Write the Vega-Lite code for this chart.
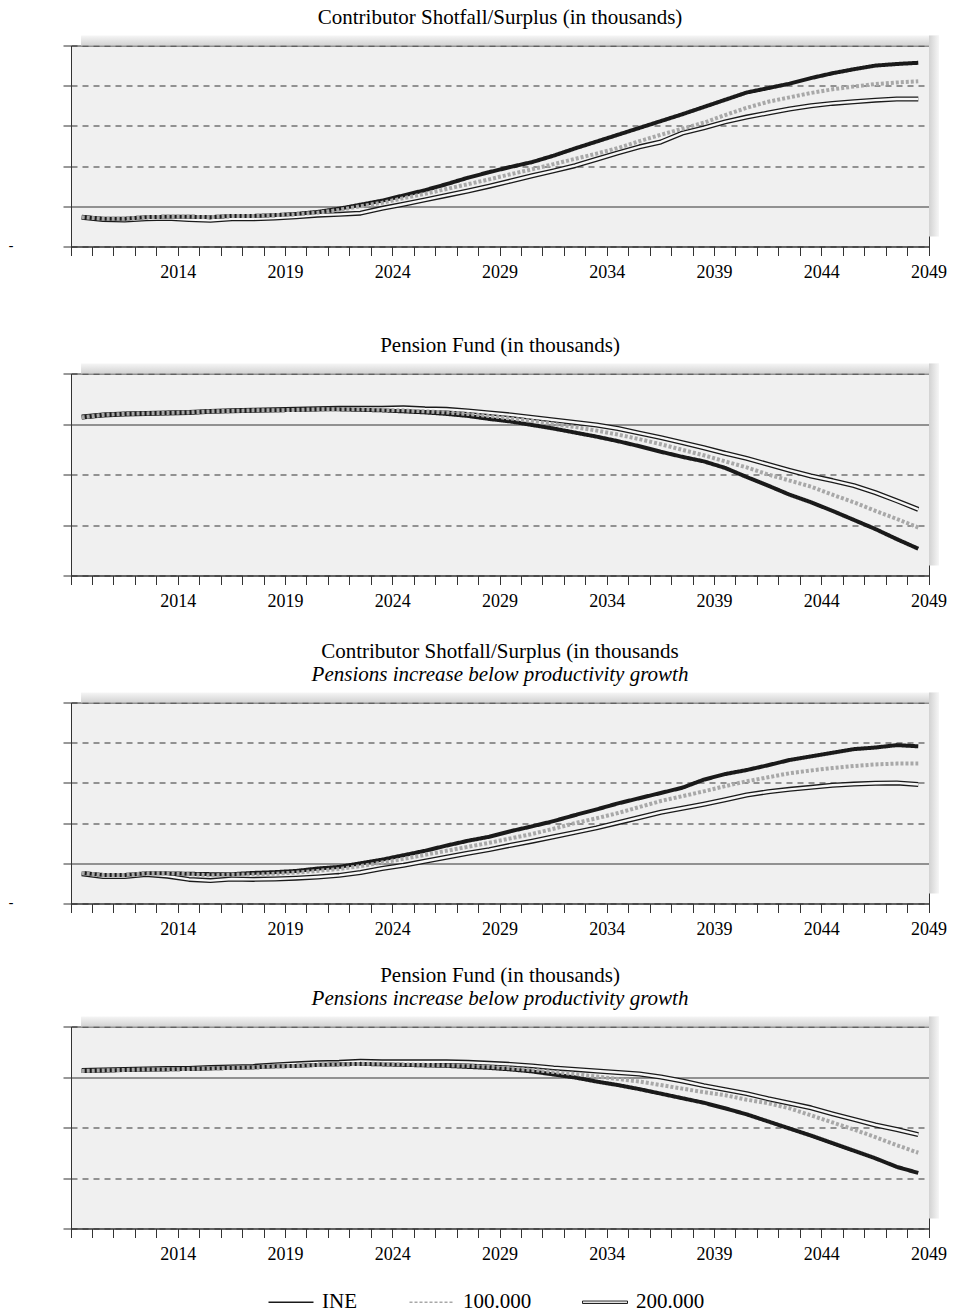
{
 "$schema": "https://vega.github.io/schema/vega-lite/v6.json",
 "padding": {"left": 7, "top": 6.5, "right": 5, "bottom": 5},
 "background": "white",
 "config": {
  "view": {"fill": "#f0f0f0", "stroke": "#333333", "strokeWidth": 1},
  "axis": {"domainColor": "#333333", "tickColor": "#333333", "labelFont": "Liberation Serif", "labelFontSize": 18, "labelColor": "#000000"},
  "title": {"font": "Liberation Serif", "fontSize": 21, "fontWeight": "normal", "color": "#000000", "subtitleFont": "Liberation Serif", "subtitleFontSize": 21, "subtitleFontStyle": "italic", "subtitleColor": "#000000", "subtitlePadding": 2, "offset": 7, "anchor": "middle"}
 },
 "datasets": {
  "d": [
   {"p":1,"year":2010,"INE":-0.27,"c100":-0.27,"c200":-0.27},
   {"p":1,"year":2011,"INE":-0.31,"c100":-0.31,"c200":-0.33},
   {"p":1,"year":2012,"INE":-0.31,"c100":-0.31,"c200":-0.34},
   {"p":1,"year":2013,"INE":-0.27,"c100":-0.27,"c200":-0.31},
   {"p":1,"year":2014,"INE":-0.26,"c100":-0.26,"c200":-0.30},
   {"p":1,"year":2015,"INE":-0.26,"c100":-0.26,"c200":-0.33},
   {"p":1,"year":2016,"INE":-0.27,"c100":-0.27,"c200":-0.35},
   {"p":1,"year":2017,"INE":-0.24,"c100":-0.24,"c200":-0.31},
   {"p":1,"year":2018,"INE":-0.24,"c100":-0.24,"c200":-0.31},
   {"p":1,"year":2019,"INE":-0.22,"c100":-0.22,"c200":-0.29},
   {"p":1,"year":2020,"INE":-0.19,"c100":-0.20,"c200":-0.26},
   {"p":1,"year":2021,"INE":-0.14,"c100":-0.16,"c200":-0.22},
   {"p":1,"year":2022,"INE":-0.06,"c100":-0.09,"c200":-0.20},
   {"p":1,"year":2023,"INE":0.04,"c100":0.00,"c200":-0.17},
   {"p":1,"year":2024,"INE":0.14,"c100":0.09,"c200":-0.05},
   {"p":1,"year":2025,"INE":0.27,"c100":0.20,"c200":0.05},
   {"p":1,"year":2026,"INE":0.40,"c100":0.31,"c200":0.16},
   {"p":1,"year":2027,"INE":0.55,"c100":0.43,"c200":0.27},
   {"p":1,"year":2028,"INE":0.71,"c100":0.55,"c200":0.38},
   {"p":1,"year":2029,"INE":0.85,"c100":0.67,"c200":0.50},
   {"p":1,"year":2030,"INE":0.98,"c100":0.80,"c200":0.63},
   {"p":1,"year":2031,"INE":1.10,"c100":0.92,"c200":0.76},
   {"p":1,"year":2032,"INE":1.26,"c100":1.05,"c200":0.88},
   {"p":1,"year":2033,"INE":1.44,"c100":1.18,"c200":1.01},
   {"p":1,"year":2034,"INE":1.61,"c100":1.31,"c200":1.17},
   {"p":1,"year":2035,"INE":1.78,"c100":1.45,"c200":1.33},
   {"p":1,"year":2036,"INE":1.95,"c100":1.62,"c200":1.48},
   {"p":1,"year":2037,"INE":2.12,"c100":1.78,"c200":1.60},
   {"p":1,"year":2038,"INE":2.29,"c100":1.93,"c200":1.82},
   {"p":1,"year":2039,"INE":2.47,"c100":2.08,"c200":1.95},
   {"p":1,"year":2040,"INE":2.65,"c100":2.27,"c200":2.10},
   {"p":1,"year":2041,"INE":2.83,"c100":2.45,"c200":2.22},
   {"p":1,"year":2042,"INE":2.94,"c100":2.60,"c200":2.32},
   {"p":1,"year":2043,"INE":3.05,"c100":2.71,"c200":2.42},
   {"p":1,"year":2044,"INE":3.19,"c100":2.82,"c200":2.50},
   {"p":1,"year":2045,"INE":3.31,"c100":2.91,"c200":2.56},
   {"p":1,"year":2046,"INE":3.41,"c100":2.98,"c200":2.60},
   {"p":1,"year":2047,"INE":3.50,"c100":3.04,"c200":2.64},
   {"p":1,"year":2048,"INE":3.54,"c100":3.08,"c200":2.67},
   {"p":1,"year":2049,"INE":3.57,"c100":3.11,"c200":2.67},

   {"p":2,"year":2010,"INE":0.13,"c100":0.13,"c200":0.14},
   {"p":2,"year":2011,"INE":0.18,"c100":0.18,"c200":0.18},
   {"p":2,"year":2012,"INE":0.20,"c100":0.20,"c200":0.20},
   {"p":2,"year":2013,"INE":0.21,"c100":0.21,"c200":0.21},
   {"p":2,"year":2014,"INE":0.22,"c100":0.22,"c200":0.22},
   {"p":2,"year":2015,"INE":0.23,"c100":0.23,"c200":0.23},
   {"p":2,"year":2016,"INE":0.25,"c100":0.25,"c200":0.25},
   {"p":2,"year":2017,"INE":0.26,"c100":0.26,"c200":0.26},
   {"p":2,"year":2018,"INE":0.27,"c100":0.27,"c200":0.27},
   {"p":2,"year":2019,"INE":0.27,"c100":0.27,"c200":0.28},
   {"p":2,"year":2020,"INE":0.28,"c100":0.28,"c200":0.29},
   {"p":2,"year":2021,"INE":0.29,"c100":0.29,"c200":0.30},
   {"p":2,"year":2022,"INE":0.29,"c100":0.29,"c200":0.31},
   {"p":2,"year":2023,"INE":0.28,"c100":0.29,"c200":0.31},
   {"p":2,"year":2024,"INE":0.27,"c100":0.28,"c200":0.31},
   {"p":2,"year":2025,"INE":0.25,"c100":0.27,"c200":0.32},
   {"p":2,"year":2026,"INE":0.23,"c100":0.25,"c200":0.30},
   {"p":2,"year":2027,"INE":0.20,"c100":0.23,"c200":0.29},
   {"p":2,"year":2028,"INE":0.16,"c100":0.20,"c200":0.26},
   {"p":2,"year":2029,"INE":0.10,"c100":0.16,"c200":0.22},
   {"p":2,"year":2030,"INE":0.05,"c100":0.11,"c200":0.18},
   {"p":2,"year":2031,"INE":-0.02,"c100":0.06,"c200":0.13},
   {"p":2,"year":2032,"INE":-0.09,"c100":0.00,"c200":0.08},
   {"p":2,"year":2033,"INE":-0.17,"c100":-0.06,"c200":0.03},
   {"p":2,"year":2034,"INE":-0.25,"c100":-0.13,"c200":-0.02},
   {"p":2,"year":2035,"INE":-0.34,"c100":-0.21,"c200":-0.09},
   {"p":2,"year":2036,"INE":-0.44,"c100":-0.30,"c200":-0.18},
   {"p":2,"year":2037,"INE":-0.55,"c100":-0.40,"c200":-0.27},
   {"p":2,"year":2038,"INE":-0.65,"c100":-0.51,"c200":-0.37},
   {"p":2,"year":2039,"INE":-0.74,"c100":-0.62,"c200":-0.47},
   {"p":2,"year":2040,"INE":-0.87,"c100":-0.74,"c200":-0.58},
   {"p":2,"year":2041,"INE":-1.05,"c100":-0.86,"c200":-0.68},
   {"p":2,"year":2042,"INE":-1.22,"c100":-1.00,"c200":-0.80},
   {"p":2,"year":2043,"INE":-1.40,"c100":-1.12,"c200":-0.92},
   {"p":2,"year":2044,"INE":-1.55,"c100":-1.24,"c200":-1.03},
   {"p":2,"year":2045,"INE":-1.72,"c100":-1.40,"c200":-1.12},
   {"p":2,"year":2046,"INE":-1.90,"c100":-1.55,"c200":-1.22},
   {"p":2,"year":2047,"INE":-2.08,"c100":-1.72,"c200":-1.36},
   {"p":2,"year":2048,"INE":-2.28,"c100":-1.88,"c200":-1.52},
   {"p":2,"year":2049,"INE":-2.47,"c100":-2.05,"c200":-1.69},

   {"p":3,"year":2010,"INE":-0.24,"c100":-0.24,"c200":-0.26},
   {"p":3,"year":2011,"INE":-0.29,"c100":-0.29,"c200":-0.33},
   {"p":3,"year":2012,"INE":-0.29,"c100":-0.29,"c200":-0.33},
   {"p":3,"year":2013,"INE":-0.25,"c100":-0.25,"c200":-0.28},
   {"p":3,"year":2014,"INE":-0.25,"c100":-0.25,"c200":-0.32},
   {"p":3,"year":2015,"INE":-0.26,"c100":-0.27,"c200":-0.40},
   {"p":3,"year":2016,"INE":-0.27,"c100":-0.30,"c200":-0.43},
   {"p":3,"year":2017,"INE":-0.27,"c100":-0.28,"c200":-0.39},
   {"p":3,"year":2018,"INE":-0.24,"c100":-0.28,"c200":-0.40},
   {"p":3,"year":2019,"INE":-0.22,"c100":-0.26,"c200":-0.39},
   {"p":3,"year":2020,"INE":-0.19,"c100":-0.23,"c200":-0.37},
   {"p":3,"year":2021,"INE":-0.13,"c100":-0.19,"c200":-0.34},
   {"p":3,"year":2022,"INE":-0.09,"c100":-0.14,"c200":-0.30},
   {"p":3,"year":2023,"INE":0.00,"c100":-0.07,"c200":-0.23},
   {"p":3,"year":2024,"INE":0.09,"c100":0.02,"c200":-0.13},
   {"p":3,"year":2025,"INE":0.20,"c100":0.11,"c200":-0.05},
   {"p":3,"year":2026,"INE":0.31,"c100":0.21,"c200":0.05},
   {"p":3,"year":2027,"INE":0.44,"c100":0.31,"c200":0.15},
   {"p":3,"year":2028,"INE":0.56,"c100":0.41,"c200":0.25},
   {"p":3,"year":2029,"INE":0.66,"c100":0.51,"c200":0.34},
   {"p":3,"year":2030,"INE":0.80,"c100":0.62,"c200":0.45},
   {"p":3,"year":2031,"INE":0.92,"c100":0.73,"c200":0.55},
   {"p":3,"year":2032,"INE":1.05,"c100":0.86,"c200":0.66},
   {"p":3,"year":2033,"INE":1.20,"c100":1.00,"c200":0.77},
   {"p":3,"year":2034,"INE":1.34,"c100":1.12,"c200":0.88},
   {"p":3,"year":2035,"INE":1.49,"c100":1.25,"c200":1.01},
   {"p":3,"year":2036,"INE":1.62,"c100":1.40,"c200":1.14},
   {"p":3,"year":2037,"INE":1.75,"c100":1.55,"c200":1.27},
   {"p":3,"year":2038,"INE":1.88,"c100":1.67,"c200":1.37},
   {"p":3,"year":2039,"INE":2.08,"c100":1.79,"c200":1.47},
   {"p":3,"year":2040,"INE":2.22,"c100":1.92,"c200":1.58},
   {"p":3,"year":2041,"INE":2.32,"c100":2.04,"c200":1.70},
   {"p":3,"year":2042,"INE":2.44,"c100":2.14,"c200":1.78},
   {"p":3,"year":2043,"INE":2.57,"c100":2.24,"c200":1.84},
   {"p":3,"year":2044,"INE":2.66,"c100":2.31,"c200":1.89},
   {"p":3,"year":2045,"INE":2.75,"c100":2.37,"c200":1.94},
   {"p":3,"year":2046,"INE":2.84,"c100":2.42,"c200":1.97},
   {"p":3,"year":2047,"INE":2.88,"c100":2.46,"c200":1.99},
   {"p":3,"year":2048,"INE":2.94,"c100":2.48,"c200":2.00},
   {"p":3,"year":2049,"INE":2.91,"c100":2.48,"c200":1.96},

   {"p":4,"year":2010,"INE":0.12,"c100":0.12,"c200":0.13},
   {"p":4,"year":2011,"INE":0.13,"c100":0.13,"c200":0.14},
   {"p":4,"year":2012,"INE":0.14,"c100":0.14,"c200":0.15},
   {"p":4,"year":2013,"INE":0.15,"c100":0.15,"c200":0.16},
   {"p":4,"year":2014,"INE":0.15,"c100":0.15,"c200":0.17},
   {"p":4,"year":2015,"INE":0.16,"c100":0.16,"c200":0.17},
   {"p":4,"year":2016,"INE":0.17,"c100":0.17,"c200":0.19},
   {"p":4,"year":2017,"INE":0.18,"c100":0.18,"c200":0.20},
   {"p":4,"year":2018,"INE":0.19,"c100":0.19,"c200":0.21},
   {"p":4,"year":2019,"INE":0.21,"c100":0.21,"c200":0.24},
   {"p":4,"year":2020,"INE":0.22,"c100":0.22,"c200":0.26},
   {"p":4,"year":2021,"INE":0.24,"c100":0.24,"c200":0.28},
   {"p":4,"year":2022,"INE":0.25,"c100":0.25,"c200":0.29},
   {"p":4,"year":2023,"INE":0.26,"c100":0.26,"c200":0.31},
   {"p":4,"year":2024,"INE":0.25,"c100":0.26,"c200":0.30},
   {"p":4,"year":2025,"INE":0.24,"c100":0.25,"c200":0.30},
   {"p":4,"year":2026,"INE":0.23,"c100":0.24,"c200":0.30},
   {"p":4,"year":2027,"INE":0.22,"c100":0.23,"c200":0.30},
   {"p":4,"year":2028,"INE":0.20,"c100":0.22,"c200":0.29},
   {"p":4,"year":2029,"INE":0.18,"c100":0.20,"c200":0.27},
   {"p":4,"year":2030,"INE":0.15,"c100":0.17,"c200":0.25},
   {"p":4,"year":2031,"INE":0.11,"c100":0.14,"c200":0.22},
   {"p":4,"year":2032,"INE":0.05,"c100":0.10,"c200":0.18},
   {"p":4,"year":2033,"INE":-0.01,"c100":0.06,"c200":0.15},
   {"p":4,"year":2034,"INE":-0.09,"c100":0.01,"c200":0.12},
   {"p":4,"year":2035,"INE":-0.16,"c100":-0.04,"c200":0.09},
   {"p":4,"year":2036,"INE":-0.24,"c100":-0.09,"c200":0.06},
   {"p":4,"year":2037,"INE":-0.33,"c100":-0.16,"c200":0.00},
   {"p":4,"year":2038,"INE":-0.42,"c100":-0.23,"c200":-0.08},
   {"p":4,"year":2039,"INE":-0.51,"c100":-0.30,"c200":-0.17},
   {"p":4,"year":2040,"INE":-0.62,"c100":-0.36,"c200":-0.25},
   {"p":4,"year":2041,"INE":-0.74,"c100":-0.45,"c200":-0.33},
   {"p":4,"year":2042,"INE":-0.88,"c100":-0.52,"c200":-0.43},
   {"p":4,"year":2043,"INE":-1.02,"c100":-0.62,"c200":-0.52},
   {"p":4,"year":2044,"INE":-1.16,"c100":-0.76,"c200":-0.61},
   {"p":4,"year":2045,"INE":-1.31,"c100":-0.90,"c200":-0.73},
   {"p":4,"year":2046,"INE":-1.46,"c100":-1.04,"c200":-0.84},
   {"p":4,"year":2047,"INE":-1.61,"c100":-1.19,"c200":-0.95},
   {"p":4,"year":2048,"INE":-1.78,"c100":-1.35,"c200":-1.04},
   {"p":4,"year":2049,"INE":-1.90,"c100":-1.50,"c200":-1.14}
  ]
 },
 "resolve": {"scale": {"color": "shared", "strokeDash": "shared"}},
 "spacing": 29,
 "vconcat": [
  {
   "spacing": 52,
   "resolve": {"scale": {"color": "shared", "strokeDash": "shared"}},
   "vconcat": [
    {
     "title": {"text": "Contributor Shotfall/Surplus (in thousands)"},
     "width": 858, "height": 201,
     "resolve": {"scale": {"x": "independent"}, "axis": {"x": "independent"}},
     "layer": [
      {
       "data": {"values": [{}]},
       "layer": [
        {"mark": {"type": "rect", "clip": false, "fill": {"gradient": "linear", "x1": 0, "y1": 0, "x2": 0, "y2": 1, "stops": [{"offset": 0, "color": "#f6f6f6"}, {"offset": 1, "color": "#d2d2d2"}]}},
         "encoding": {"x": {"datum": 0.0117, "type": "quantitative", "scale": {"domain": [0, 1]}, "axis": null}, "x2": {"datum": 1.0117}, "y": {"datum": 4, "type": "quantitative", "scale": {"domain": [-1, 4], "nice": false, "zero": false}}, "y2": {"datum": 4.25}}},
        {"mark": {"type": "rect", "clip": false, "fill": {"gradient": "linear", "x1": 0, "y1": 0, "x2": 1, "y2": 0, "stops": [{"offset": 0, "color": "#d2d2d2"}, {"offset": 1, "color": "#f6f6f6"}]}},
         "encoding": {"x": {"datum": 1, "type": "quantitative", "scale": {"domain": [0, 1]}, "axis": null}, "x2": {"datum": 1.0117}, "y": {"datum": -0.75, "type": "quantitative"}, "y2": {"datum": 4.25}}}
       ]
      },
      {
       "data": {"name": "d"},
       "transform": [{"filter": "datum.p == 1"}],
       "encoding": {
        "x": {"field": "year", "type": "ordinal", "bandPosition": 0.5, "scale": {"type": "band", "paddingInner": 0, "paddingOuter": 0}, "axis": {"title": null, "bandPosition": 1, "tickExtra": true, "labelOffset": 10.73, "labelExpr": "(datum.value - 2014) % 5 == 0 ? datum.label : ''", "labelAngle": 0, "labelOverlap": false, "tickSize": 9, "labelPadding": 8, "grid": false}}
       },
       "layer": [
        {"mark": {"type": "line", "stroke": "#1a1a1a", "strokeWidth": 5, "strokeJoin": "round"},
         "encoding": {"y": {"field": "c200", "type": "quantitative", "scale": {"domain": [-1, 4], "nice": false, "zero": false}, "axis": {"title": null, "values": [-1, 0, 1, 2, 3, 4], "grid": true, "gridColor": "#333333", "gridDash": {"condition": {"test": "datum.value === 0", "value": []}, "value": [6, 5]}, "tickSize": 8, "labelExpr": "datum.value == -1 ? '-' : ''", "labelFont": "DejaVu Sans", "labelFontSize": 14, "labelPadding": 50}}}},
        {"mark": {"type": "line", "stroke": "#f7f7f7", "strokeWidth": 2.4, "strokeJoin": "round"},
         "encoding": {"y": {"field": "c200", "type": "quantitative"}}},
        {"transform": [{"fold": ["INE", "c100"], "as": ["series", "value"]}],
         "mark": {"type": "line", "strokeWidth": 4, "strokeJoin": "round"},
         "encoding": {
          "y": {"field": "value", "type": "quantitative"},
          "color": {"field": "series", "type": "nominal", "scale": {"domain": ["INE", "c100", "c200"], "range": ["#1a1a1a", "#a8a8a8", "#1a1a1a"]},
           "legend": {"title": null, "orient": "none", "legendX": 209.5, "legendY": 1246, "direction": "horizontal", "symbolType": "stroke", "symbolSize": 2025, "symbolStrokeWidth": 1.5, "labelFont": "Liberation Serif", "labelFontSize": 21, "labelColor": "#000000", "labelOffset": 20.5, "columnPadding": 49,
            "labelExpr": "datum.value == 'c100' ? '100.000' : datum.value == 'c200' ? '200.000' : datum.label",
            "encode": {"symbols": {"update": {"shape": {"signal": "datum.value == 'c200' ? 'M-1,-0.055H1V0.055H-1Z' : 'stroke'"}, "fill": {"signal": "datum.value == 'c200' ? '#e4e4e4' : 'transparent'"}, "strokeWidth": {"signal": "datum.value == 'c200' ? 1 : 1.5"}}}}}},
          "strokeDash": {"field": "series", "type": "nominal", "scale": {"domain": ["INE", "c100", "c200"], "range": [[1, 0], [3, 2], [1, 0]]}}
         }}
       ]
      }
     ]
    },
    {
     "title": {"text": "Pension Fund (in thousands)"},
     "width": 858, "height": 202,
     "resolve": {"scale": {"x": "independent"}, "axis": {"x": "independent"}},
     "layer": [
      {
       "data": {"values": [{}]},
       "layer": [
        {"mark": {"type": "rect", "clip": false, "fill": {"gradient": "linear", "x1": 0, "y1": 0, "x2": 0, "y2": 1, "stops": [{"offset": 0, "color": "#f6f6f6"}, {"offset": 1, "color": "#d2d2d2"}]}},
         "encoding": {"x": {"datum": 0.0117, "type": "quantitative", "scale": {"domain": [0, 1]}, "axis": null}, "x2": {"datum": 1.0117}, "y": {"datum": 1, "type": "quantitative", "scale": {"domain": [-3, 1], "nice": false, "zero": false}}, "y2": {"datum": 1.2}}},
        {"mark": {"type": "rect", "clip": false, "fill": {"gradient": "linear", "x1": 0, "y1": 0, "x2": 1, "y2": 0, "stops": [{"offset": 0, "color": "#d2d2d2"}, {"offset": 1, "color": "#f6f6f6"}]}},
         "encoding": {"x": {"datum": 1, "type": "quantitative", "scale": {"domain": [0, 1]}, "axis": null}, "x2": {"datum": 1.0117}, "y": {"datum": -2.8, "type": "quantitative"}, "y2": {"datum": 1.2}}}
       ]
      },
      {
       "data": {"name": "d"},
       "transform": [{"filter": "datum.p == 2"}],
       "encoding": {
        "x": {"field": "year", "type": "ordinal", "bandPosition": 0.5, "scale": {"type": "band", "paddingInner": 0, "paddingOuter": 0}, "axis": {"title": null, "bandPosition": 1, "tickExtra": true, "labelOffset": 10.73, "labelExpr": "(datum.value - 2014) % 5 == 0 ? datum.label : ''", "labelAngle": 0, "labelOverlap": false, "tickSize": 9, "labelPadding": 8, "grid": false}}
       },
       "layer": [
        {"mark": {"type": "line", "stroke": "#1a1a1a", "strokeWidth": 5, "strokeJoin": "round"},
         "encoding": {"y": {"field": "c200", "type": "quantitative", "scale": {"domain": [-3, 1], "nice": false, "zero": false}, "axis": {"title": null, "values": [-3, -2, -1, 0, 1], "grid": true, "gridColor": "#333333", "gridDash": {"condition": {"test": "datum.value === 0", "value": []}, "value": [6, 5]}, "tickSize": 8, "labelExpr": "''", "labelFont": "DejaVu Sans", "labelFontSize": 14, "labelPadding": 50}}}},
        {"mark": {"type": "line", "stroke": "#f7f7f7", "strokeWidth": 2.4, "strokeJoin": "round"},
         "encoding": {"y": {"field": "c200", "type": "quantitative"}}},
        {"transform": [{"fold": ["INE", "c100"], "as": ["series", "value"]}],
         "mark": {"type": "line", "strokeWidth": 4, "strokeJoin": "round"},
         "encoding": {
          "y": {"field": "value", "type": "quantitative"},
          "color": {"field": "series", "type": "nominal", "scale": {"domain": ["INE", "c100", "c200"], "range": ["#1a1a1a", "#a8a8a8", "#1a1a1a"]}},
          "strokeDash": {"field": "series", "type": "nominal", "scale": {"domain": ["INE", "c100", "c200"], "range": [[1, 0], [3, 2], [1, 0]]}}
         }}
       ]
      }
     ]
    }
   ]
  },
  {
   "spacing": 25,
   "resolve": {"scale": {"color": "shared", "strokeDash": "shared"}},
   "vconcat": [
    {
     "title": {"text": "Contributor Shotfall/Surplus (in thousands", "subtitle": "Pensions increase below productivity growth"},
     "width": 858, "height": 201,
     "resolve": {"scale": {"x": "independent"}, "axis": {"x": "independent"}},
     "layer": [
      {
       "data": {"values": [{}]},
       "layer": [
        {"mark": {"type": "rect", "clip": false, "fill": {"gradient": "linear", "x1": 0, "y1": 0, "x2": 0, "y2": 1, "stops": [{"offset": 0, "color": "#f6f6f6"}, {"offset": 1, "color": "#d2d2d2"}]}},
         "encoding": {"x": {"datum": 0.0117, "type": "quantitative", "scale": {"domain": [0, 1]}, "axis": null}, "x2": {"datum": 1.0117}, "y": {"datum": 4, "type": "quantitative", "scale": {"domain": [-1, 4], "nice": false, "zero": false}}, "y2": {"datum": 4.25}}},
        {"mark": {"type": "rect", "clip": false, "fill": {"gradient": "linear", "x1": 0, "y1": 0, "x2": 1, "y2": 0, "stops": [{"offset": 0, "color": "#d2d2d2"}, {"offset": 1, "color": "#f6f6f6"}]}},
         "encoding": {"x": {"datum": 1, "type": "quantitative", "scale": {"domain": [0, 1]}, "axis": null}, "x2": {"datum": 1.0117}, "y": {"datum": -0.75, "type": "quantitative"}, "y2": {"datum": 4.25}}}
       ]
      },
      {
       "data": {"name": "d"},
       "transform": [{"filter": "datum.p == 3"}],
       "encoding": {
        "x": {"field": "year", "type": "ordinal", "bandPosition": 0.5, "scale": {"type": "band", "paddingInner": 0, "paddingOuter": 0}, "axis": {"title": null, "bandPosition": 1, "tickExtra": true, "labelOffset": 10.73, "labelExpr": "(datum.value - 2014) % 5 == 0 ? datum.label : ''", "labelAngle": 0, "labelOverlap": false, "tickSize": 9, "labelPadding": 8, "grid": false}}
       },
       "layer": [
        {"mark": {"type": "line", "stroke": "#1a1a1a", "strokeWidth": 5, "strokeJoin": "round"},
         "encoding": {"y": {"field": "c200", "type": "quantitative", "scale": {"domain": [-1, 4], "nice": false, "zero": false}, "axis": {"title": null, "values": [-1, 0, 1, 2, 3, 4], "grid": true, "gridColor": "#333333", "gridDash": {"condition": {"test": "datum.value === 0", "value": []}, "value": [6, 5]}, "tickSize": 8, "labelExpr": "datum.value == -1 ? '-' : ''", "labelFont": "DejaVu Sans", "labelFontSize": 14, "labelPadding": 50}}}},
        {"mark": {"type": "line", "stroke": "#f7f7f7", "strokeWidth": 2.4, "strokeJoin": "round"},
         "encoding": {"y": {"field": "c200", "type": "quantitative"}}},
        {"transform": [{"fold": ["INE", "c100"], "as": ["series", "value"]}],
         "mark": {"type": "line", "strokeWidth": 4, "strokeJoin": "round"},
         "encoding": {
          "y": {"field": "value", "type": "quantitative"},
          "color": {"field": "series", "type": "nominal", "scale": {"domain": ["INE", "c100", "c200"], "range": ["#1a1a1a", "#a8a8a8", "#1a1a1a"]}},
          "strokeDash": {"field": "series", "type": "nominal", "scale": {"domain": ["INE", "c100", "c200"], "range": [[1, 0], [3, 2], [1, 0]]}}
         }}
       ]
      }
     ]
    },
    {
     "title": {"text": "Pension Fund (in thousands)", "subtitle": "Pensions increase below productivity growth"},
     "width": 858, "height": 202,
     "resolve": {"scale": {"x": "independent"}, "axis": {"x": "independent"}},
     "layer": [
      {
       "data": {"values": [{}]},
       "layer": [
        {"mark": {"type": "rect", "clip": false, "fill": {"gradient": "linear", "x1": 0, "y1": 0, "x2": 0, "y2": 1, "stops": [{"offset": 0, "color": "#f6f6f6"}, {"offset": 1, "color": "#d2d2d2"}]}},
         "encoding": {"x": {"datum": 0.0117, "type": "quantitative", "scale": {"domain": [0, 1]}, "axis": null}, "x2": {"datum": 1.0117}, "y": {"datum": 1, "type": "quantitative", "scale": {"domain": [-3, 1], "nice": false, "zero": false}}, "y2": {"datum": 1.2}}},
        {"mark": {"type": "rect", "clip": false, "fill": {"gradient": "linear", "x1": 0, "y1": 0, "x2": 1, "y2": 0, "stops": [{"offset": 0, "color": "#d2d2d2"}, {"offset": 1, "color": "#f6f6f6"}]}},
         "encoding": {"x": {"datum": 1, "type": "quantitative", "scale": {"domain": [0, 1]}, "axis": null}, "x2": {"datum": 1.0117}, "y": {"datum": -2.8, "type": "quantitative"}, "y2": {"datum": 1.2}}}
       ]
      },
      {
       "data": {"name": "d"},
       "transform": [{"filter": "datum.p == 4"}],
       "encoding": {
        "x": {"field": "year", "type": "ordinal", "bandPosition": 0.5, "scale": {"type": "band", "paddingInner": 0, "paddingOuter": 0}, "axis": {"title": null, "bandPosition": 1, "tickExtra": true, "labelOffset": 10.73, "labelExpr": "(datum.value - 2014) % 5 == 0 ? datum.label : ''", "labelAngle": 0, "labelOverlap": false, "tickSize": 9, "labelPadding": 8, "grid": false}}
       },
       "layer": [
        {"mark": {"type": "line", "stroke": "#1a1a1a", "strokeWidth": 5, "strokeJoin": "round"},
         "encoding": {"y": {"field": "c200", "type": "quantitative", "scale": {"domain": [-3, 1], "nice": false, "zero": false}, "axis": {"title": null, "values": [-3, -2, -1, 0, 1], "grid": true, "gridColor": "#333333", "gridDash": {"condition": {"test": "datum.value === 0", "value": []}, "value": [6, 5]}, "tickSize": 8, "labelExpr": "''", "labelFont": "DejaVu Sans", "labelFontSize": 14, "labelPadding": 50}}}},
        {"mark": {"type": "line", "stroke": "#f7f7f7", "strokeWidth": 2.4, "strokeJoin": "round"},
         "encoding": {"y": {"field": "c200", "type": "quantitative"}}},
        {"transform": [{"fold": ["INE", "c100"], "as": ["series", "value"]}],
         "mark": {"type": "line", "strokeWidth": 4, "strokeJoin": "round"},
         "encoding": {
          "y": {"field": "value", "type": "quantitative"},
          "color": {"field": "series", "type": "nominal", "scale": {"domain": ["INE", "c100", "c200"], "range": ["#1a1a1a", "#a8a8a8", "#1a1a1a"]}},
          "strokeDash": {"field": "series", "type": "nominal", "scale": {"domain": ["INE", "c100", "c200"], "range": [[1, 0], [3, 2], [1, 0]]}}
         }}
       ]
      }
     ]
    }
   ]
  }
 ]
}
